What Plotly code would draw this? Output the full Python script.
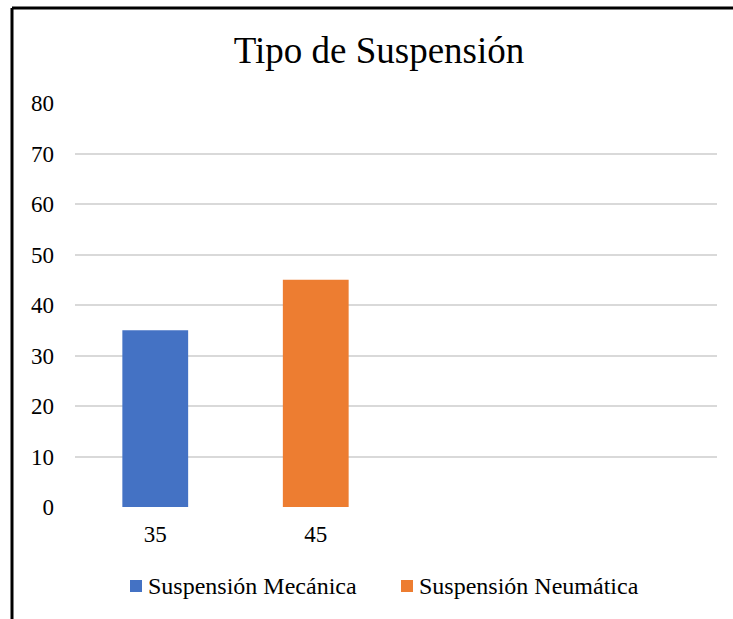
import plotly.graph_objects as go

# Chart data
categories = ["35", "45"]
series_names = ["Suspensión Mecánica", "Suspensión Neumática"]
series_values = [35, 45]
series_colors = ["#4472C4", "#ED7D31"]
y_ticks = [0, 10, 20, 30, 40, 50, 60, 70, 80]

FONT = "Liberation Serif"
TICK_FONT = dict(family=FONT, size=23, color="#000000")
LEGEND_FONT = dict(family=FONT, size=24, color="#000000")

# Plot-area geometry in pixels (used to place the frame and legend keys)
W, H = 733, 619
ML, MR, MT, MB = 75, 16, 103, 112
PW, PH = W - ML - MR, H - MT - MB


def px_x(p):
    return (p - ML) / PW


def px_y(p):
    return (H - MB - p) / PH


fig = go.Figure()
for i, (name, val, col) in enumerate(zip(series_names, series_values, series_colors)):
    fig.add_trace(go.Bar(
        x=[i], y=[val], name=name, width=0.41,
        marker=dict(color=col, line=dict(width=0)),
        showlegend=False,
    ))

fig.update_layout(
    width=W, height=H,
    margin=dict(l=ML, r=MR, t=MT, b=MB),
    paper_bgcolor="white", plot_bgcolor="white",
    barmode="overlay",
    font=dict(family=FONT, color="#000000", size=23),
    title=dict(text="Tipo de Suspensión", x=379 / W, xanchor="center",
               y=1 - 50 / H, yanchor="middle",
               font=dict(family=FONT, size=37, color="#000000")),
    xaxis=dict(range=[-0.5, 3.5], tickvals=list(range(len(categories))),
               ticktext=categories, showgrid=False, zeroline=False,
               showline=False, ticks="", ticklabelstandoff=11,
               tickfont=TICK_FONT),
    yaxis=dict(range=[0, 80], tickvals=y_ticks, showgrid=True,
               gridcolor="#D9D9D9", gridwidth=1.5, zeroline=False,
               showline=False, ticks="", ticklabelstandoff=20,
               tickfont=TICK_FONT),
)

# Legend: colour key squares with labels below the plot
legend_keys_px = [130, 401]
for name, col, kx in zip(series_names, series_colors, legend_keys_px):
    fig.add_shape(type="rect", xref="paper", yref="paper",
                  x0=px_x(kx), x1=px_x(kx + 12), y0=px_y(580), y1=px_y(592),
                  fillcolor=col, line=dict(width=0))
    fig.add_annotation(text=name, xref="paper", yref="paper",
                       x=px_x(kx + 16), y=px_y(586), xanchor="left",
                       yanchor="middle", showarrow=False,
                       font=LEGEND_FONT)

# Chart frame (left and top edges)
fig.add_shape(type="line", xref="paper", yref="paper",
              x0=px_x(12), x1=px_x(12), y0=px_y(H + 20), y1=px_y(8),
              line=dict(color="black", width=3))
fig.add_shape(type="line", xref="paper", yref="paper",
              x0=px_x(12), x1=px_x(W + 20), y0=px_y(8), y1=px_y(8),
              line=dict(color="black", width=3))

fig.write_html("out.html")
